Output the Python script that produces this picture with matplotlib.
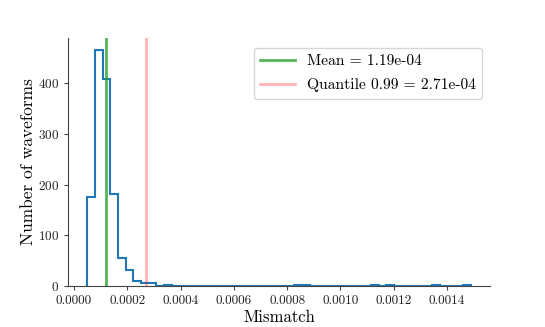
import numpy as np
import matplotlib
matplotlib.use('Agg')
import matplotlib.pyplot as plt

plt.rcParams['font.family'] = 'serif'
plt.rcParams['font.serif'] = ['cmr10']
plt.rcParams['mathtext.fontset'] = 'cm'
plt.rcParams['axes.formatter.use_mathtext'] = True

# histogram data
bin_lo = 0.0000498
bin_hi = 0.001489
counts = [175, 466, 409, 182, 56, 31, 10, 5, 5, 0,
          1, 0, 0, 0, 0, 0, 0, 0, 0, 0,
          0, 0, 0, 0, 0, 0, 0, 1, 1, 0,
          0, 0, 0, 0, 0, 0, 0, 1, 0, 2,
          0, 0, 0, 0, 0, 1, 0, 0, 0, 1]
mean_val = 1.19e-4
q99_val = 2.71e-4

edges = np.linspace(bin_lo, bin_hi, len(counts) + 1)

fig = plt.figure(figsize=(5.45, 3.27), dpi=100)
ax = fig.add_axes([0.1248, 0.1254, 0.7742, 0.7586])

ax.stairs(counts, edges, color='#1f77b4', linewidth=1.5)
ax.axvline(mean_val, color='#2ca02c', alpha=0.8, linewidth=2,
           label='Mean = %.2e' % mean_val)
ax.axvline(q99_val, color='red', alpha=0.3, linewidth=2,
           label='Quantile 0.99 = %.2e' % q99_val)

ax.set_xlim(bin_lo - 0.05 * (bin_hi - bin_lo), bin_hi + 0.05 * (bin_hi - bin_lo))
ax.set_ylim(0, max(counts) * 1.05)
ticks = np.arange(0, 0.0015, 0.0002)
ax.set_xticks(ticks)
ax.set_xticklabels(['%.4f' % t for t in ticks])
ax.set_yticks([0, 100, 200, 300, 400])

for s in ['top', 'right']:
    ax.spines[s].set_visible(False)
for s in ['left', 'bottom']:
    ax.spines[s].set_color('#444444')
ax.tick_params(labelsize=9.5, length=3, color='#444444', labelcolor='#222222')

ax.set_xlabel('Mismatch', fontsize=12, labelpad=2)
ax.set_ylabel('Number of waveforms', fontsize=12.5, labelpad=1)
ax.legend(loc='upper right', fontsize=11.2, frameon=True, handlelength=2.2,
          labelspacing=0.65, bbox_to_anchor=(1.0, 0.99))

plt.savefig('out.png', dpi=100)
